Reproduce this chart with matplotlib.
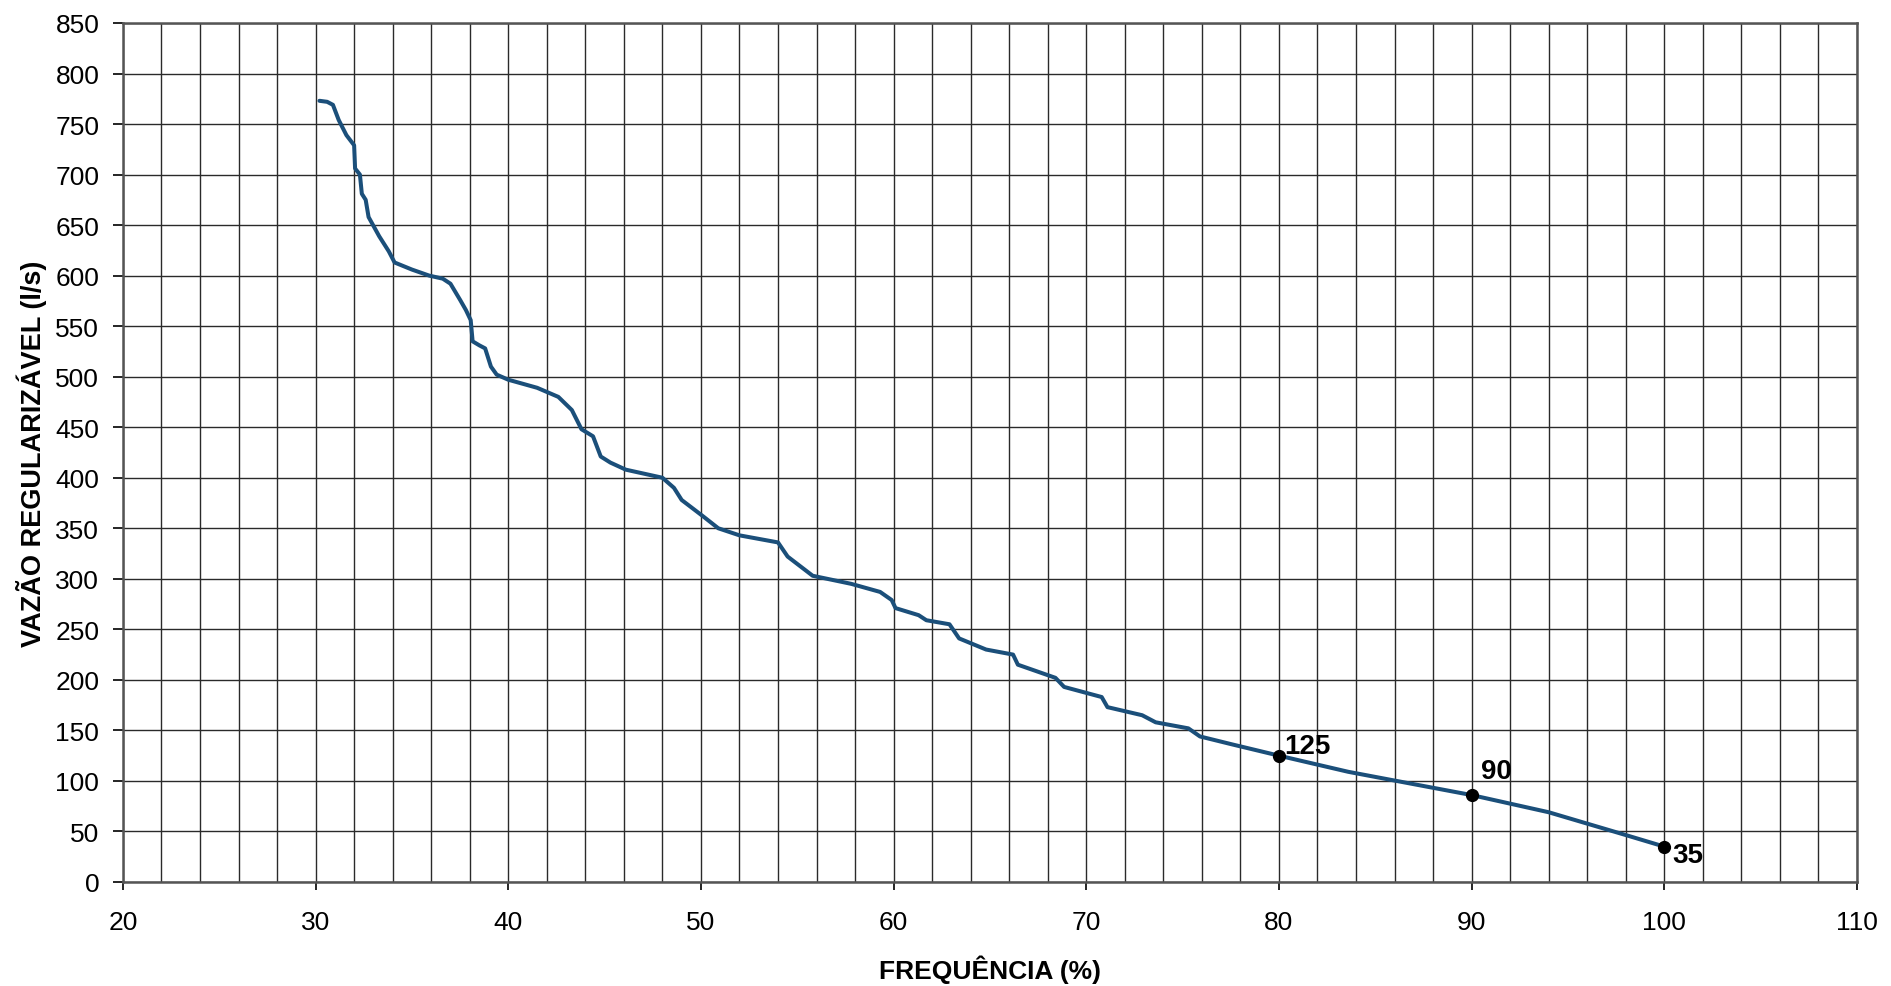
import matplotlib
matplotlib.use("Agg")
import matplotlib.pyplot as plt
from matplotlib.ticker import MultipleLocator

plt.rcParams['font.family'] = ['Liberation Sans', 'DejaVu Sans']

# curva de regularização
freq = [30.2, 30.6, 30.9, 31.2, 31.6, 32.0, 32.05, 32.3, 32.4, 32.6, 32.75, 33.3, 33.8, 34.1,
        35.0, 35.9, 36.6, 37.0, 37.5, 37.8, 38.05, 38.15, 38.5, 38.8, 39.1, 39.4, 40.0, 41.5,
        42.6, 43.3, 43.8, 44.4, 44.8, 45.3, 46.1, 48.0, 48.6, 49.0, 50.1, 50.9, 52.0,
        54.0, 54.5, 55.8, 57.8, 59.3, 59.9, 60.1, 61.3, 61.7, 62.9, 63.4, 64.8,
        66.2, 66.45, 68.4, 68.85, 70.8, 71.1, 72.9, 73.6, 75.3, 75.9, 77.6, 80.0,
        83.6, 86.1, 90.0, 94.0, 97.9, 100.0]
vazao = [773, 772, 769, 754, 739, 729, 706, 700, 681, 675, 658, 639, 624, 613,
         606, 600, 597, 592, 576, 566, 556, 535, 531, 528, 510, 502, 497, 489,
         480, 467, 448, 441, 421, 415, 408, 400, 390, 378, 362, 350, 343,
         336, 322, 303, 295, 287, 279, 271, 264, 259, 255, 241, 230,
         225, 215, 202, 193, 183, 173, 165, 158, 152, 144, 136, 125,
         109, 100, 86, 69, 47, 35]

# pontos destacados
pt_freq = [80, 90, 100]
pt_vazao = [125, 86, 35]
pt_labels = ['125', '90', '35']
pt_offsets = [(4, 7), (6.5, 17), (6, -6)]

fig = plt.figure(figsize=(18.91, 9.87), dpi=100)
ax = fig.add_axes([0.065, 0.1054, 0.917, 0.8703])

ax.plot(freq, vazao, color='#1b4f7a', lw=2.9, solid_joinstyle='round',
        solid_capstyle='round', zorder=3)
ax.plot(pt_freq, pt_vazao, 'o', color='black', markersize=8.5, zorder=4)
for x, y, t, off in zip(pt_freq, pt_vazao, pt_labels, pt_offsets):
    ax.annotate(t, (x, y), xytext=off, textcoords='offset points',
                fontsize=20, fontweight='bold', va='center', ha='left', zorder=5)

ax.set_xlim(20, 110)
ax.set_ylim(0, 850)
ax.xaxis.set_major_locator(MultipleLocator(10))
ax.xaxis.set_minor_locator(MultipleLocator(2))
ax.yaxis.set_major_locator(MultipleLocator(50))

ax.grid(True, which='both', axis='x', color='#2a2a2a', lw=1.0)
ax.grid(True, which='major', axis='y', color='#2a2a2a', lw=1.0)
ax.set_axisbelow(True)
for s in ax.spines.values():
    s.set_color('#555555')
    s.set_linewidth(1.8)

ax.tick_params(axis='x', which='major', length=6, width=1.2, pad=14, labelsize=19)
ax.tick_params(axis='x', which='minor', length=0)
ax.tick_params(axis='y', length=7, width=1.2, pad=10, labelsize=19)

ax.set_xlabel('FREQUÊNCIA (%)', fontsize=19, fontweight='bold', va='center')
ax.set_ylabel('VAZÃO REGULARIZÁVEL (l/s)', fontsize=19.5, fontweight='bold', va='center')
ax.xaxis.set_label_coords(0.5, -0.101)
ax.yaxis.set_label_coords(-0.0525, 0.5)

fig.savefig('out.png', dpi=100)
